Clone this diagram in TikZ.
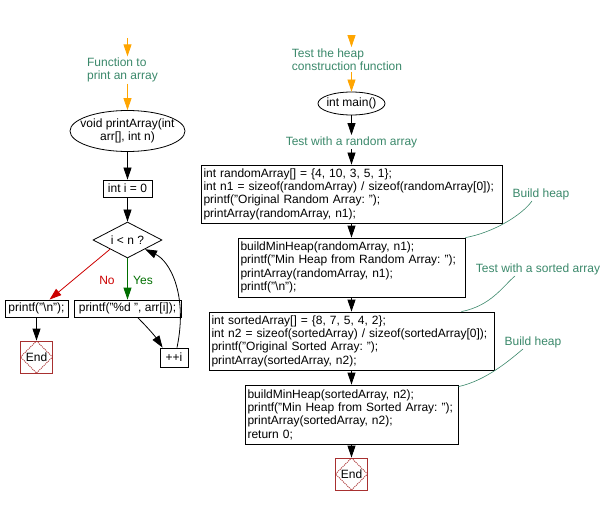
\documentclass[tikz,border=0pt]{standalone}
\usepackage{fontspec}
\setmainfont{Liberation Sans}
\usetikzlibrary{arrows.meta,shapes.geometric}
\definecolor{notegreen}{RGB}{58,136,106}
\definecolor{entryorange}{RGB}{255,165,0}
\definecolor{nored}{RGB}{204,0,0}
\definecolor{yesgreen}{RGB}{0,110,0}
\definecolor{endred}{RGB}{168,48,48}
\frenchspacing
\begin{document}
\begin{tikzpicture}[x=1pt,y=-1pt,line width=0.8pt,font=\fontsize{12}{13.3}\selectfont,
    note/.style={text=notegreen,align=left,inner sep=1pt},
    codebox/.style={draw,align=left,inner xsep=2.5pt,inner ysep=2pt},
    term/.style={draw,ellipse,align=center},
    endbox/.style={draw=endred,minimum size=32pt,inner sep=0pt,
      path picture={\draw[endred,densely dotted,line width=1pt]
        (path picture bounding box.north) -- (path picture bounding box.east)
        -- (path picture bounding box.south) -- (path picture bounding box.west) -- cycle;}},
    tip/.style={-{Triangle[length=12pt,width=8pt]}}]
  \useasboundingbox (0,0) rectangle (610,505);
  \draw
    (127.5,38) coordinate (s1)
    (122.5,70) node[note] (fn){Function to\\print an array}
    (127.5,131) node[term,inner xsep=-7pt,inner ysep=0pt,minimum width=115pt,minimum height=41pt] (pa){void printArray(int\\arr[], int n)}
    (127.5,188.5) node[codebox,minimum width=49pt,minimum height=17pt] (init){int i = 0}
    (127.5,240) node[draw,diamond,aspect=2,inner sep=0pt,minimum width=69pt,minimum height=36pt] (cond){i < n ?}
    (107,280) node[text=nored] (lno){No}
    (143,280) node[text=yesgreen] (lyes){Yes}
    (36.5,308.5) node[codebox,minimum width=63pt,minimum height=17pt] (nl){printf("\textbackslash n");}
    (127.5,308.5) node[codebox,minimum width=107pt,minimum height=17pt] (pel){printf("\%d ", arr[i]);}
    (36.5,357) node[endbox] (end1){End}
    (174,357.5) node[codebox,minimum width=28pt,minimum height=19pt] (inc){++i}
    (351.5,38) coordinate (s2)
    (347,59.5) node[note] (mn){Test the heap\\construction function}
    (351.5,103.5) node[term,inner xsep=-3pt,inner ysep=-2pt,minimum width=67pt,minimum height=23pt] (main){int main()}
    (351.5,142) node[note] (rl){Test with a random array}
    (351.5,194) node[codebox,text width=296pt,minimum height=58pt] (b1){int randomArray[] = \{4, 10, 3, 5, 1\};\\int n1 = sizeof(randomArray) / sizeof(randomArray[0]);\\printf("Original Random Array: ");\\printArray(randomArray, n1);}
    (351.5,267.5) node[codebox,text width=222pt,minimum height=59pt] (b2){buildMinHeap(randomArray, n1);\\printf("Min Heap from Random Array: ");\\printArray(randomArray, n1);\\printf("\textbackslash n");}
    (351.5,341) node[codebox,text width=280pt,minimum height=58pt] (b3){int sortedArray[] = \{8, 7, 5, 4, 2\};\\int n2 = sizeof(sortedArray) / sizeof(sortedArray[0]);\\printf("Original Sorted Array: ");\\printArray(sortedArray, n2);}
    (351.5,414.5) node[codebox,text width=208pt,minimum height=59pt] (b4){buildMinHeap(sortedArray, n2);\\printf("Min Heap from Sorted Array: ");\\printArray(sortedArray, n2);\\return 0;}
    (351.5,474) node[endbox] (end2){End}
    (541,194) node[note] (bh1){Build heap}
    (538,269) node[note] (ts){Test with a sorted array}
    (533,342) node[note] (bh2){Build heap};
  \begin{scope}[tip,entryorange]
    \draw (s1) -- (s1 |- fn.north);
    \draw (s1 |- fn.south) -- (pa);
    \draw (s2) -- (s2 |- mn.north);
    \draw (s2 |- mn.south) -- (main);
  \end{scope}
  \begin{scope}[tip]
    \draw (pa) -- (init);
    \draw (init) -- (cond);
    \draw[nored] (cond.south west) -- ([xshift=13pt]nl.north);
    \draw[yesgreen] (cond) -- (pel);
    \draw (nl) -- (end1);
    \draw ([xshift=10pt]pel.south) .. controls +(10,10) and +(-8,-12) .. ([xshift=3pt]inc.north west);
    \draw ([xshift=3pt]inc.north) .. controls +(11,-53) and +(25,12) .. (cond.south east);
    \draw (main) -- (rl);
    \draw (rl) -- (b1);
    \draw (b1) -- (b2);
    \draw (b2) -- (b3);
    \draw (b3) -- (b4);
    \draw (b4) -- (end2);
  \end{scope}
  \begin{scope}[notegreen,line width=0.6pt]
    \draw ([xshift=-9pt]bh1.south) .. controls +(-10,14) and +(28,-5) .. (b2.north east);
    \draw ([xshift=-23pt]ts.south) .. controls +(-12,10) and +(30,-6) .. ([xshift=-33pt]b3.north east);
    \draw ([xshift=-10pt]bh2.south) .. controls +(-12,10) and +(28,-6) .. ([yshift=-2pt]b4.north east);
  \end{scope}
\end{tikzpicture}
\end{document}
